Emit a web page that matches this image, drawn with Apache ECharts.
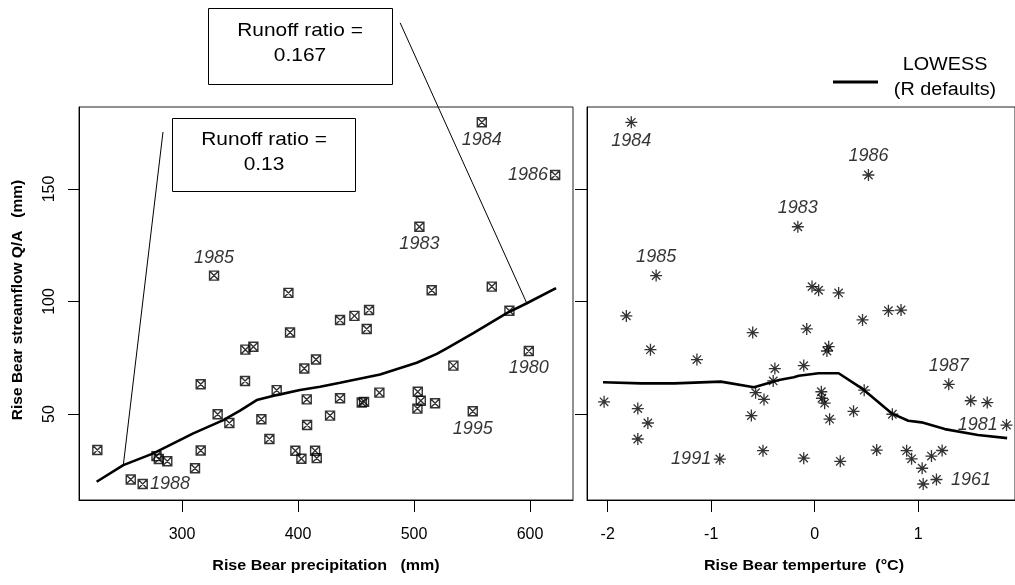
<!DOCTYPE html>
<html><head><meta charset="utf-8">
<script src="https://cdn.jsdelivr.net/npm/echarts@6/dist/echarts.min.js"></script>
<style>html,body{margin:0;padding:0;background:#fff}#c{width:1015px;height:585px}</style>
</head><body><div id="c"></div>
<script>
// ---- data (one entry per year, sorted by streamflow) ----
const flow = [18.9, 20.9, 25.9, 29.0, 30.0, 30.1, 30.4, 31.3, 33.7, 33.7, 33.8, 34.0, 38.9, 45.1, 46.0, 47.7, 49.3, 49.9, 51.2, 52.4,
  54.8, 55.1, 55.4, 55.9, 56.5, 57.0, 59.5, 59.9, 60.6, 63.2, 64.7, 70.2, 71.5, 74.2, 78.0, 78.6, 79.9, 86.2, 87.8, 91.8,
  93.6, 95.9, 96.2, 103.8, 105.0, 106.6, 111.5, 133.2, 156.2, 179.6];
const precip = [266.1, 255.8, 311.2, 287.3, 280, 402.9, 416.1, 278, 397.7, 414.7, 316.1, 227, 375.3, 407.8, 340.8, 368.4, 427.6, 330.7, 550.6, 502.9,
  518.1, 454.9, 456.9, 505.8, 407.5, 436.2, 470.1, 503.2, 381.6, 316.1, 354.3, 405.4, 533.9, 415.5, 598.9, 354.6, 361.5, 393.1, 459.2, 436.2,
  448.6, 582.2, 461.2, 391.7, 515.2, 567, 327.6, 504.6, 621.6, 558.4];
const temp = [1.048, 1.176, 1.038, 0.247, -0.917, 0.936, -0.106, 1.128, -0.5, 0.888, 1.231, 0.599, -1.709, 1.853, -1.612, 0.144, -0.612, 0.75, 0.375, -1.709,
  0.096, 1.667, -2.035, 1.507, -0.49, 0.07, -0.571, 0.064, 0.478, 1.295, -0.401, -0.385, -0.106, -1.138, 0.118, -1.587, 0.135, -0.599, -0.077, 0.462,
  -1.82, 0.712, 0.834, 0.231, 0.038, -0.026, -1.532, -0.163, 0.519, -1.772];
const years = ['1988', '1961', '', '', '1991', '', '', '', '', '', '', '', '', '1981', '', '', '', '', '1995', '',
  '', '', '', '', '', '', '', '', '', '1987', '', '', '', '', '1980', '', '', '', '', '',
  '', '', '', '', '', '', '1985', '1983', '1986', '1984'];
const lowessPrecipX = [226.4, 249.4, 275.3, 309.7, 335.6, 350, 364.4, 381.6, 401.7, 419, 436.2, 470.7, 502.3, 519.6, 528.2, 551.1, 579.9, 597.2, 622.4];
const lowessPrecipY = [19.9, 27.3, 32.5, 41.4, 47.3, 51.5, 56.2, 58.4, 60.7, 62.1, 63.9, 67.6, 72.8, 76.7, 79.2, 85.9, 94.8, 99.2, 105.9];
const lowessTempX = [-2.045, -1.676, -1.356, -0.907, -0.587, -0.394, -0.346, -0.202, -0.154, 0.038, 0.231, 0.455, 0.743, 0.904, 1.032, 1.257, 1.577, 1.859];
const lowessTempY = [64.1, 63.6, 63.6, 64.4, 61.9, 64.4, 65.1, 66.3, 67, 68.1, 68.1, 61.4, 50.3, 47, 46.3, 43.3, 40.7, 39.3];
const xTicksPrecip = [300, 400, 500, 600];
const xTicksTemp = [-2, -1, 0, 1];
const yTicks = [50, 100, 150];
const runoffA = ['Runoff ratio =', '0.167'];
const runoffB = ['Runoff ratio =', '0.13'];
const leaderA = [[488, 223.8], [597.2, 99.2]];
const leaderB = [[283.6, 175.3], [249.4, 27.3]];
const xTitleP = 'Rise Bear precipitation   (mm)';
const xTitleT = 'Rise Bear temperture  (\u00B0C)';
const yTitle = 'Rise Bear streamflow Q/A   (mm)';
const legendText = ['LOWESS', '(R defaults)'];

// ---- styles ----
const FONT = "'Liberation Sans', Arial, sans-serif";
const leftLabelPos = {1984: 'bottom', 1986: 'left', 1985: 'top', 1983: 'bottom', 1988: 'right', 1980: 'bottom', 1995: 'bottom'};
const rightLabelPos = {1984: 'bottom', 1986: 'top', 1983: 'top', 1985: 'top', 1991: 'left', 1987: 'top', 1981: 'left', 1961: 'right'};
const labelDist = {top: 3, bottom: 3, left: 2, right: 2};
const specialDist = {1961: 8};
const squareX = 'path://M0,0 L10,0 L10,10 L0,10 Z M0,0 L10,10 M10,0 L0,10';
const asterisk = 'path://M5,0 L5,10 M0,5 L10,5 M1.5,1.5 L8.5,8.5 M8.5,1.5 L1.5,8.5';

function pts(xs, labelPos) {
  return flow.map((q, i) => {
    const item = {value: [xs[i], q]};
    const y = years[i];
    if (y && labelPos[y]) {
      const pos = labelPos[y];
      item.label = {show: true, position: pos, distance: specialDist[y] != null && labelPos === rightLabelPos ? specialDist[y] : labelDist[pos],
        formatter: y, fontSize: 18, fontStyle: 'italic', fontFamily: FONT, color: '#000'};
    }
    return item;
  });
}
const zip = (a, b) => a.map((v, i) => [v, b[i]]);

const axisCommon = {
  type: 'value', splitLine: {show: false},
  axisLine: {show: true, onZero: false, lineStyle: {color: '#000', width: 1}},
};
const chart = echarts.init(document.getElementById('c'), null, {renderer: 'canvas'});
const option = {
  animation: false,
  backgroundColor: '#fff',
  grid: [
    {left: 79, top: 107, width: 494, height: 393, show: true, borderColor: '#222', borderWidth: 1, backgroundColor: 'transparent'},
    {left: 587, top: 107, width: 430, height: 393, show: true, borderColor: '#222', borderWidth: 1, backgroundColor: 'transparent'}
  ],
  xAxis: [
    Object.assign({}, axisCommon, {gridIndex: 0, min: 211.2, max: 637,
      axisTick: {show: true, customValues: xTicksPrecip, length: 12, lineStyle: {color: '#000'}},
      axisLabel: {customValues: xTicksPrecip, margin: 27, fontSize: 16, color: '#000', fontFamily: FONT}}),
    Object.assign({}, axisCommon, {gridIndex: 1, min: -2.2, max: 1.935,
      axisTick: {show: true, customValues: xTicksTemp, length: 12, lineStyle: {color: '#000'}},
      axisLabel: {customValues: xTicksTemp, margin: 27, fontSize: 16, color: '#000', fontFamily: FONT}})
  ],
  yAxis: [
    Object.assign({}, axisCommon, {gridIndex: 0, min: 11.8, max: 186.4,
      axisTick: {show: true, customValues: yTicks, length: 11, lineStyle: {color: '#000'}},
      axisLabel: {customValues: yTicks, rotate: 90, margin: 21, fontSize: 16, color: '#000', fontFamily: FONT}}),
    Object.assign({}, axisCommon, {gridIndex: 1, min: 11.8, max: 186.4,
      axisTick: {show: true, customValues: yTicks, length: 12, lineStyle: {color: '#000'}},
      axisLabel: {show: false}})
  ],
  series: [
    {type: 'scatter', xAxisIndex: 0, yAxisIndex: 0, symbol: squareX, symbolSize: 9,
      itemStyle: {color: 'rgba(0,0,0,0)', borderColor: '#000', borderWidth: 1.4}, data: pts(precip, leftLabelPos), z: 3},
    {type: 'line', xAxisIndex: 0, yAxisIndex: 0, data: zip(lowessPrecipX, lowessPrecipY), showSymbol: false, symbol: 'none',
      lineStyle: {color: '#000', width: 2.6}, z: 4},
    {type: 'line', xAxisIndex: 0, yAxisIndex: 0, data: leaderA, clip: false, symbol: 'none', lineStyle: {color: '#000', width: 1}, z: 5},
    {type: 'line', xAxisIndex: 0, yAxisIndex: 0, data: leaderB, clip: false, symbol: 'none', lineStyle: {color: '#000', width: 1}, z: 5},
    {type: 'scatter', xAxisIndex: 1, yAxisIndex: 1, symbol: asterisk, symbolSize: 12,
      itemStyle: {color: 'rgba(0,0,0,0)', borderColor: '#000', borderWidth: 1.3}, data: pts(temp, rightLabelPos), z: 3},
    {type: 'line', xAxisIndex: 1, yAxisIndex: 1, data: zip(lowessTempX, lowessTempY), showSymbol: false, symbol: 'none',
      lineStyle: {color: '#000', width: 2.6}, z: 4}
  ],
  graphic: [
    {type: 'rect', shape: {x: 208.5, y: 8.5, width: 184, height: 76}, style: {fill: '#fff', stroke: '#000', lineWidth: 1}, z: 10},
    {type: 'text', x: 300, y: 43, scaleX: 1.1, z: 11,
      style: {text: runoffA.join('\n'), fontSize: 19, lineHeight: 25, fontFamily: FONT, fill: '#000', align: 'center', verticalAlign: 'middle'}},
    {type: 'rect', shape: {x: 172.5, y: 118.5, width: 183, height: 73}, style: {fill: '#fff', stroke: '#000', lineWidth: 1}, z: 10},
    {type: 'text', x: 264, y: 152, scaleX: 1.1, z: 11,
      style: {text: runoffB.join('\n'), fontSize: 19, lineHeight: 25, fontFamily: FONT, fill: '#000', align: 'center', verticalAlign: 'middle'}},
    {type: 'line', shape: {x1: 833, y1: 82, x2: 878, y2: 82}, style: {stroke: '#000', lineWidth: 3}, z: 10},
    {type: 'text', x: 945, y: 78, scaleX: 1.1, z: 11,
      style: {text: legendText.join('\n'), fontSize: 18, lineHeight: 25, fontFamily: FONT, fill: '#000', align: 'center', verticalAlign: 'middle'}},
    {type: 'text', x: 326, y: 566, scaleX: 1.07, z: 11,
      style: {text: xTitleP, fontSize: 15, fontWeight: 'bold', fontFamily: FONT, fill: '#000', align: 'center', verticalAlign: 'middle'}},
    {type: 'text', x: 804, y: 566, scaleX: 1.07, z: 11,
      style: {text: xTitleT, fontSize: 15, fontWeight: 'bold', fontFamily: FONT, fill: '#000', align: 'center', verticalAlign: 'middle'}},
    {type: 'text', x: 18, y: 300, rotation: Math.PI / 2, z: 11,
      style: {text: yTitle, fontSize: 15.5, fontWeight: 'bold', fontFamily: FONT, fill: '#000', align: 'center', verticalAlign: 'middle'}}
  ]
};
chart.setOption(option);
</script></body></html>
